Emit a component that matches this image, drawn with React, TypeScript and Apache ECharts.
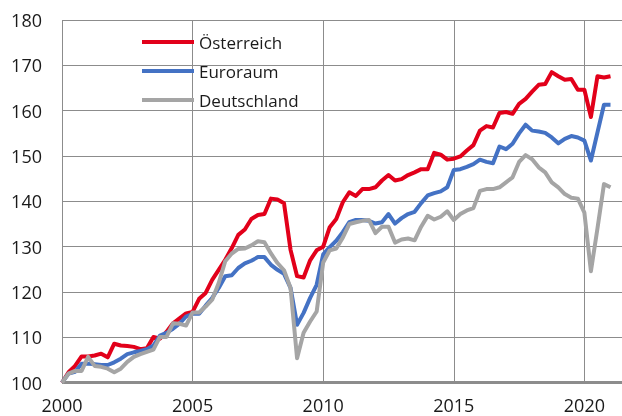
import React, { useEffect, useRef } from "react";
import * as echarts from "echarts";

const seriesNames = ["Österreich", "Euroraum", "Deutschland"];

// Quarterly index, 2000 Q1 = 100 (2000 Q1 … 2021 Q1)
const oesterreich = [
  100, 102.3, 103.7, 105.8, 105.8, 106, 106.4, 105.6, 108.6, 108.2,
  108.1, 107.9, 107.4, 107.6, 110.1, 109.7, 111.2, 113.1, 114.2, 115.3,
  115.6, 118.5, 119.8, 122.7, 124.9, 127.1, 129.7, 132.6, 133.8, 136.1,
  137.0, 137.2, 140.6, 140.4, 139.6, 129.3, 123.5, 123.2, 127, 129.2,
  130, 134.3, 136.1, 139.8, 142, 141.2, 142.7, 142.7, 143.1, 144.6,
  145.8, 144.6, 144.9, 145.8, 146.4, 147.1, 147.1, 150.7, 150.3, 149.2,
  149.4, 149.9, 151.2, 152.4, 155.6, 156.6, 156.3, 159.5, 159.7, 159.3,
  161.5, 162.6, 164.2, 165.7, 165.9, 168.5, 167.6, 166.8, 167, 164.6,
  164.6, 158.6, 167.6, 167.3, 167.6,
];

const euroraum = [
  100, 102, 102.4, 104.2, 104.2, 104.1, 103.9, 103.9, 104.5, 105.3,
  106.3, 106.7, 107, 107.4, 108.2, 110.4, 111, 111.9, 113, 114.6,
  115.2, 115.2, 117, 118.7, 120.9, 123.5, 123.7, 125.3, 126.3, 126.9,
  127.7, 127.7, 126, 124.9, 124, 120.9, 112.8, 115.4, 118.7, 121.6,
  128.3, 129.9, 131.3, 133.2, 135.4, 135.9, 135.9, 135.7, 135.1, 135.4,
  137.2, 135.1, 136.3, 137.2, 137.7, 139.6, 141.3, 141.8, 142.2, 143.1,
  146.9, 147.1, 147.6, 148.2, 149.2, 148.7, 148.4, 152.1, 151.5, 152.7,
  155, 156.9, 155.6, 155.4, 155.1, 154.1, 152.8, 153.8, 154.4, 154.1,
  153.4, 149, 155.2, 161.3, 161.3,
];

const deutschland = [
  100, 102, 102.6, 102.6, 105.7, 103.7, 103.5, 103.1, 102.3, 103.1,
  104.6, 105.7, 106.3, 106.8, 107.3, 110.1, 110.1, 113.1, 113, 112.6,
  115.5, 115.5, 116.8, 118.3, 122, 126.8, 128.5, 129.5, 129.6, 130.3,
  131.2, 131, 128.5, 126.4, 124.8, 120.9, 105.4, 111, 113.5, 115.7,
  126.5, 129.2, 129.6, 132, 135, 135.4, 135.7, 135.9, 133, 134.4,
  134.4, 130.9, 131.6, 131.8, 131.4, 134.4, 136.8, 136, 136.6, 137.8,
  135.9, 137.2, 138, 138.5, 142.3, 142.7, 142.7, 143.1, 144.2, 145.3,
  148.7, 150.2, 149.3, 147.5, 146.4, 144.2, 143.1, 141.6, 140.8, 140.6,
  137.5, 124.6, 134, 143.8, 143.1,
];

// quarter positions on the time axis: 2000 Q1, 2000 Q2, ...
const quarters = oesterreich.map((_, i) => 2000 + i / 4);

const yTicks = [100, 110, 120, 130, 140, 150, 160, 170, 180];
const xTicks = [2000, 2005, 2010, 2015, 2020];

const colors = ["#e2001a", "#4472c4", "#a5a5a5"];

export default function App() {
  const ref = useRef<HTMLDivElement>(null);
  useEffect(() => {
    if (!ref.current) return;
    const chart = echarts.init(ref.current, null, { renderer: "svg" });
    const values = [oesterreich, euroraum, deutschland];
    const font = "'Open Sans', 'DejaVu Sans', sans-serif";
    chart.setOption({
      animation: false,
      color: colors,
      textStyle: { fontFamily: font },
      grid: { left: 62, top: 20, width: 560, height: 362.7, containLabel: false },
      legend: {
        orient: "vertical",
        left: 142,
        top: 32,
        padding: 0,
        icon: "rect",
        itemWidth: 52,
        itemHeight: 4,
        itemGap: 9,
        data: seriesNames,
        textStyle: { fontSize: 17, color: "#1a1a1a", lineHeight: 20, fontFamily: font },
      },
      xAxis: {
        type: "value",
        min: xTicks[0],
        max: 2021.44,
        interval: 5,
        axisLine: { show: false },
        axisTick: { show: false },
        axisLabel: {
          fontSize: 18,
          color: "#1a1a1a",
          margin: 13,
          showMaxLabel: false,
          fontFamily: font,
          formatter: (v: number) => (xTicks.includes(v) ? String(v) : ""),
        },
        splitLine: { show: true, lineStyle: { color: "#8c8c8c", width: 1 } },
      },
      yAxis: {
        type: "value",
        min: yTicks[0],
        max: yTicks[yTicks.length - 1],
        interval: 10,
        axisLine: { show: false },
        axisTick: { show: false },
        axisLabel: { fontSize: 18, color: "#1a1a1a", margin: 20, fontFamily: font },
        splitLine: { show: true, lineStyle: { color: "#8c8c8c", width: 1 } },
      },
      series: [
        ...seriesNames.map((name, k) => ({
          name,
          type: "line",
          data: quarters.map((q, i) => [q, values[k][i]]),
          showSymbol: false,
          symbol: "none",
          lineStyle: { width: 4, color: colors[k], join: "round" },
          z: 3 + k,
        })),
        {
          name: "baseline",
          type: "line",
          data: [],
          silent: true,
          markLine: {
            silent: true,
            symbol: "none",
            label: { show: false },
            lineStyle: { color: "#8c8c8c", width: 3, type: "solid" },
            data: [{ yAxis: yTicks[0] }],
          },
          z: 10,
        },
      ],
    });
    return () => chart.dispose();
  }, []);
  return (
    <div
      ref={ref}
      style={{ position: "fixed", left: 0, top: 0, width: 622, height: 416 }}
    />
  );
}
